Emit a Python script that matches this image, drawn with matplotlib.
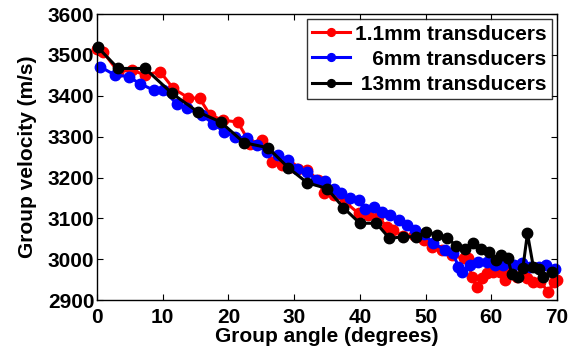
"""Group velocity vs group angle for three transducer sizes."""

import matplotlib

matplotlib.use("Agg")  # headless
import matplotlib.pyplot as plt  # noqa: E402

plt.rcParams["font.family"] = ["Liberation Sans", "DejaVu Sans"]
plt.rcParams["font.weight"] = "bold"

# 1.1mm transducers
ANGLE_11 = [0.0, 0.9, 3.2, 5.3, 7.3, 9.6, 11.6, 13.9, 15.6, 17.2, 19.2, 21.4,
            23.3, 25.1, 26.6, 28.1, 29.5, 30.6, 31.9, 33.7, 34.5, 36.0, 37.7,
            39.8, 41.3, 42.8, 44.1, 45.1, 46.6, 48.2, 49.7, 50.9, 52.5, 54.0,
            55.8, 56.5, 57.0, 57.8, 58.6, 59.3, 60.3, 61.3, 62.1, 62.9, 63.9,
            64.6, 65.4, 66.4, 67.4, 68.7, 69.5, 70.0]
VEL_11 = [3515, 3508, 3459, 3463, 3451, 3459, 3418, 3395, 3394, 3353, 3340, 3336,
          3283, 3293, 3238, 3230, 3226, 3221, 3218, 3194, 3163, 3157, 3141,
          3112, 3108, 3104, 3079, 3071, 3057, 3059, 3047, 3030, 3022, 3010,
          3002, 3002, 2957, 2933, 2953, 2965, 2969, 2969, 2949, 2969, 2957,
          2961, 2953, 2945, 2945, 2920, 2945, 2949]

# 6mm transducers
ANGLE_6 = [0.5, 2.7, 4.8, 6.5, 8.6, 10.1, 12.1, 13.7, 15.9, 17.7, 19.3, 21.0,
           22.8, 24.3, 25.8, 27.6, 29.0, 30.4, 31.9, 33.3, 34.7, 36.0, 37.2,
           38.5, 39.8, 40.8, 42.1, 43.3, 44.6, 45.9, 47.1, 48.4, 49.7, 51.2,
           53.0, 54.2, 55.0, 55.5, 56.8, 58.0, 59.3, 60.6, 61.8, 63.4, 64.6,
           65.9, 67.2, 68.4, 69.7]
VEL_6 = [3471, 3451, 3447, 3430, 3414, 3414, 3381, 3369, 3353, 3332, 3312, 3300,
         3296, 3279, 3263, 3255, 3243, 3222, 3214, 3195, 3191, 3171, 3161,
         3149, 3146, 3124, 3128, 3116, 3108, 3096, 3084, 3071, 3061, 3039,
         3022, 3014, 2981, 2969, 2986, 2994, 2994, 2986, 2986, 2986, 2990,
         2981, 2981, 2986, 2975]

# 13mm transducers
ANGLE_13 = [0.1, 3.2, 7.3, 11.4, 15.3, 18.8, 22.4, 26.0, 29.1, 32.0, 35.0, 37.5,
            40.0, 42.5, 44.5, 46.6, 48.6, 50.1, 51.8, 53.3, 54.6, 56.0, 57.2,
            58.4, 59.6, 60.7, 61.5, 62.5, 63.1, 64.1, 64.8, 65.5, 66.4, 67.2,
            67.9, 69.2]
VEL_13 = [3519, 3467, 3467, 3406, 3361, 3336, 3285, 3273, 3224, 3187, 3173, 3126,
          3088, 3088, 3051, 3055, 3055, 3067, 3059, 3053, 3033, 3026, 3040,
          3025, 3018, 2998, 3010, 3004, 2964, 2956, 2978, 3063, 2981, 2976,
          2957, 2969]

SERIES = [
    (ANGLE_11, VEL_11, "#ff0000", "1.1mm transducers"),
    (ANGLE_6, VEL_6, "#0000ff", "   6mm transducers"),
    (ANGLE_13, VEL_13, "#000000", " 13mm transducers"),
]

X_TICKS = [0, 10, 20, 30, 40, 50, 60, 70]
Y_TICKS = [2900, 3000, 3100, 3200, 3300, 3400, 3500, 3600]


def main() -> int:
    fig = plt.figure(figsize=(5.71, 3.53), dpi=100)
    ax = fig.add_axes([0.170, 0.150, 0.8055, 0.810])

    for xs, ys, color, label in SERIES:
        ax.plot(xs, ys, color=color, linewidth=2.2, marker="o", markersize=7.5,
                label=label, clip_on=False)

    ax.set_xlim(0, 70)
    ax.set_ylim(2900, 3600)
    ax.set_xticks(X_TICKS)
    ax.set_yticks(Y_TICKS)
    ax.tick_params(direction="in", length=4, width=0.8, top=True, right=True,
                   labelsize=15)
    ax.tick_params(axis="x", pad=6)
    ax.tick_params(axis="y", pad=2)
    for lbl in ax.get_xticklabels() + ax.get_yticklabels():
        lbl.set_fontweight("bold")
    for spine in ax.spines.values():
        spine.set_linewidth(1.0)

    ax.set_xlabel("Group angle (degrees)", fontsize=15, fontweight="bold",
                  labelpad=0)
    ax.set_ylabel("Group velocity (m/s)", fontsize=15, fontweight="bold",
                  labelpad=8)

    leg = ax.legend(loc="upper right", fontsize=15, frameon=True, fancybox=False,
                    borderaxespad=0.25, handlelength=1.8, handletextpad=0.25,
                    labelspacing=0.3, borderpad=0.25, markerscale=0.75)
    leg.get_frame().set_edgecolor("black")
    leg.get_frame().set_linewidth(1.0)
    for t in leg.get_texts():
        t.set_fontweight("bold")

    fig.savefig("out.png", dpi=100)
    plt.close(fig)
    return 0


if __name__ == "__main__":
    raise SystemExit(main())
